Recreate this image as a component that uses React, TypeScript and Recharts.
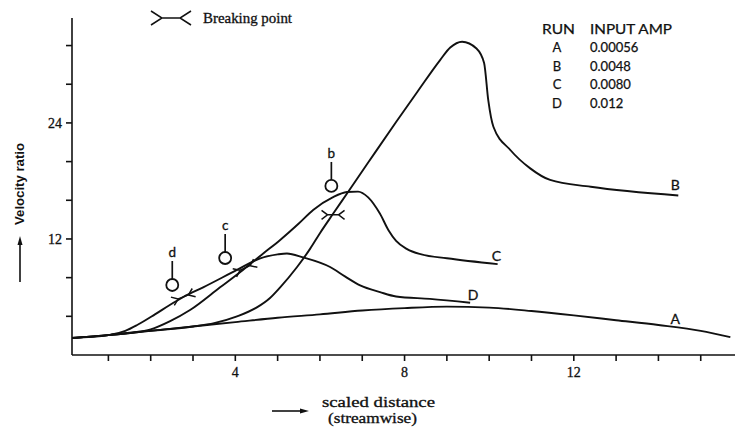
import React from 'react';
import { ComposedChart, Line, Scatter, XAxis, YAxis } from 'recharts';

// ---- data ----
const runAX = [0.14, 1, 2, 3, 4, 5, 6, 7, 8, 9, 10, 11, 12, 13, 14, 15, 15.7];
const runAY = [1.75, 2.05, 2.5, 2.95, 3.4, 3.85, 4.2, 4.6, 4.85, 5.0, 4.9, 4.55, 4.1, 3.6, 3.1, 2.5, 1.85];

const runBX = [0.14, 1, 2, 3, 3.5, 4.04, 4.5, 4.82, 5.06, 5.46, 5.77, 6.0, 6.31, 6.64, 7.14, 7.8, 8.3, 8.84, 9.08, 9.36, 9.7, 9.88, 9.98, 10.1, 10.5, 10.97, 11.44, 12.4, 14.47];
const runBY = [1.75, 2.05, 2.5, 2.95, 3.3, 4.0, 4.9, 5.9, 7.0, 9.1, 11.0, 12.6, 14.6, 16.7, 19.9, 24.1, 27.2, 30.5, 31.8, 32.4, 31.7, 30.2, 26.3, 23.6, 21.2, 19.3, 18.1, 17.4, 16.5];

const runCX = [0.14, 1, 1.5, 2, 2.46, 2.93, 3.64, 4.18, 4.66, 5.06, 5.5, 5.84, 6.3, 6.64, 6.9, 7.14, 7.42, 7.62, 7.8, 8.06, 8.4, 9.0, 10.2];
const runCY = [1.75, 2.05, 2.3, 2.65, 3.5, 4.65, 7.0, 8.8, 10.5, 11.9, 13.6, 15.0, 16.3, 16.85, 16.9, 16.3, 14.6, 12.9, 11.8, 10.95, 10.4, 10.0, 9.4];

const runDX = [0.14, 1, 1.4, 1.68, 2.1, 2.46, 2.77, 3.24, 4.04, 4.59, 5.0, 5.22, 5.6, 6.24, 6.6, 6.95, 7.42, 7.8, 8.6, 9.55];
const runDY = [1.75, 2.05, 2.5, 3.1, 4.2, 5.2, 6.0, 7.0, 8.8, 10.0, 10.4, 10.5, 10.1, 9.1, 8.1, 7.2, 6.5, 6.05, 5.8, 5.4];

const breakX = [2.77, 4.23, 6.31];
const breakY = [6.0, 9.0, 14.5];

const probeX = [2.51, 3.76, 6.27];
const probeY = [7.24, 10.03, 17.48];
const probeNames = ['d', 'c', 'b'];

const runNames = ['A', 'B', 'C', 'D'];
const inputAmps = ['0.00056', '0.0048', '0.0080', '0.012'];
const runLabelX = [14.4, 14.4, 10.17, 9.62];
const runLabelY = [3.8, 17.6, 10.3, 6.3];

const xTicks = [1, 2, 3, 4, 5, 6, 7, 8, 9, 10, 11, 12, 13, 14, 15];
const xTickLabels = [4, 8, 12];
const yTicks = [4, 8, 12, 16, 20, 24, 28, 32];
const yTickLabels = [12, 24];

// ---- helpers ----
const zip = (xs: number[], ys: number[]) => xs.map((x, i) => ({ x, y: ys[i] }));
const seriesA = zip(runAX, runAY);
const seriesB = zip(runBX, runBY);
const seriesC = zip(runCX, runCY);
const seriesD = zip(runDX, runDY);
const breakData = breakX.map((x, i) => ({ x, y: breakY[i], idx: i }));
const probeData = probeX.map((x, i) => ({ x, y: probeY[i], name: probeNames[i] }));
const runLabelData = runLabelX.map((x, i) => ({ x, y: runLabelY[i], name: runNames[i] }));

const INK = '#111';
const SERIF = "'Liberation Serif', 'Times New Roman', serif";
const SANS = "Lato, 'Open Sans', sans-serif";
const breakTilt = [-22, -25, 0];

const breakPath = (cx: number, cy: number, half: number, arm: number, spread: number) =>
  `M${cx - half - arm},${cy - spread} L${cx - half},${cy} L${cx - half - arm},${cy + spread} ` +
  `M${cx + half + arm},${cy - spread} L${cx + half},${cy} L${cx + half + arm},${cy + spread} ` +
  `M${cx - half},${cy} L${cx + half},${cy}`;

const BreakMark = (props: any) => {
  const { cx, cy, payload } = props;
  if (cx == null || cy == null) return null;
  const tilt = breakTilt[payload?.idx ?? 0] ?? 0;
  return (
    <g transform={`rotate(${tilt} ${cx} ${cy})`}>
      <path d={breakPath(cx, cy, 5.5, 6, 4.5)} fill="none" stroke={INK} strokeWidth={1.5} />
    </g>
  );
};

const ProbeMark = (props: any) => {
  const { cx, cy, payload } = props;
  if (cx == null || cy == null) return null;
  return (
    <g>
      <line x1={cx} y1={cy - 6} x2={cx} y2={cy - 24} stroke={INK} strokeWidth={1.7} />
      <circle cx={cx} cy={cy} r={6} fill="#fff" stroke={INK} strokeWidth={1.8} />
      <text x={cx} y={cy - 28} textAnchor="middle" fontFamily={SANS} fontSize={13.5} fill={INK} stroke={INK} strokeWidth={0.3}>
        {payload?.name}
      </text>
    </g>
  );
};

const RunLabel = (props: any) => {
  const { cx, cy, payload } = props;
  if (cx == null || cy == null) return null;
  return (
    <text x={cx} y={cy} textAnchor="middle" dominantBaseline="central" fontFamily={SANS} fontSize={14} fill={INK} stroke={INK} strokeWidth={0.3}>
      {payload?.name}
    </text>
  );
};

const lineProps = {
  type: 'monotone' as const,
  dataKey: 'y',
  stroke: INK,
  strokeWidth: 1.9,
  dot: false,
  activeDot: false,
  isAnimationActive: false,
  legendType: 'none' as const,
};

const tickStyle = { fill: INK, fontSize: 14, fontFamily: SERIF, stroke: INK, strokeWidth: 0.3 };

export default function App() {
  return (
    <div style={{ position: 'absolute', left: 0, top: 0, width: 735, height: 428, background: '#fff' }}>
      <ComposedChart width={735} height={428} margin={{ top: 18, right: 0, bottom: 43, left: 32 }}>
        <XAxis
          type="number"
          dataKey="x"
          domain={[0.14, 15.81]}
          allowDataOverflow
          ticks={xTicks}
          tickFormatter={(v: number) => (xTickLabels.includes(v) ? String(v) : '')}
          height={30}
          tickSize={6}
          tickMargin={6}
          axisLine={{ stroke: INK, strokeWidth: 1.6 }}
          tickLine={{ stroke: INK, strokeWidth: 1.6 }}
          tick={tickStyle}
        />
        <YAxis
          type="number"
          dataKey="y"
          domain={[0, 34.85]}
          allowDataOverflow
          ticks={yTicks}
          tickFormatter={(v: number) => (yTickLabels.includes(v) ? String(v) : '')}
          width={40}
          tickSize={6}
          tickMargin={4}
          axisLine={{ stroke: INK, strokeWidth: 1.6 }}
          tickLine={{ stroke: INK, strokeWidth: 1.6 }}
          tick={tickStyle}
        />
        <Line {...lineProps} data={seriesA} name="A" />
        <Line {...lineProps} data={seriesB} name="B" />
        <Line {...lineProps} data={seriesC} name="C" />
        <Line {...lineProps} data={seriesD} name="D" />
        <Scatter data={breakData} dataKey="y" shape={BreakMark} isAnimationActive={false} legendType="none" />
        <Scatter data={probeData} dataKey="y" shape={ProbeMark} isAnimationActive={false} legendType="none" />
        <Scatter data={runLabelData} dataKey="y" shape={RunLabel} isAnimationActive={false} legendType="none" />
      </ComposedChart>

      <svg width={735} height={428} style={{ position: 'absolute', left: 0, top: 0, pointerEvents: 'none' }}>
        {/* breaking point key */}
        <path d={breakPath(171, 18, 9, 11, 7)} fill="none" stroke={INK} strokeWidth={1.5} />
        <text x={203} y={23} fontFamily={SERIF} fontSize={14} fill={INK} stroke={INK} strokeWidth={0.3} textLength={89} lengthAdjust="spacingAndGlyphs">
          Breaking point
        </text>

        {/* run table */}
        <g fontFamily={SANS} fontSize={13} fill={INK} stroke={INK} strokeWidth={0.25}>
          <text x={542} y={33.5} textLength={33} lengthAdjust="spacingAndGlyphs">RUN</text>
          <text x={590} y={33.5} textLength={82} lengthAdjust="spacingAndGlyphs">INPUT AMP</text>
          {runNames.map((r, i) => (
            <text key={r} x={557} y={52 + i * 18.7} textAnchor="middle">
              {r}
            </text>
          ))}
          {inputAmps.map((v, i) => (
            <text key={v} x={590} y={52 + i * 18.7}>
              {v}
            </text>
          ))}
        </g>

        {/* y axis title */}
        <text
          x={19}
          y={184}
          transform="rotate(-90 19 184)"
          textAnchor="middle"
          dominantBaseline="central"
          fontFamily="'Liberation Sans', Arial, sans-serif"
          fontWeight="bold"
          fontSize={13}
          fill={INK}
          textLength={82}
          lengthAdjust="spacingAndGlyphs"
        >
          Velocity ratio
        </text>
        <line x1={20} y1={282} x2={20} y2={243} stroke={INK} strokeWidth={1.6} />
        <polygon points="20,236 17.5,245 22.5,245" fill={INK} />

        {/* x axis title */}
        <line x1={272} y1={411} x2={302} y2={411} stroke={INK} strokeWidth={1.6} />
        <polygon points="309,411 300,408.5 300,413.5" fill={INK} />
        <g fontFamily={SERIF} fontSize={14} fill={INK} stroke={INK} strokeWidth={0.3}>
          <text x={322} y={407} textLength={113} lengthAdjust="spacingAndGlyphs">
            scaled distance
          </text>
          <text x={328} y={423} textLength={89} lengthAdjust="spacingAndGlyphs">
            (streamwise)
          </text>
        </g>
      </svg>
    </div>
  );
}
